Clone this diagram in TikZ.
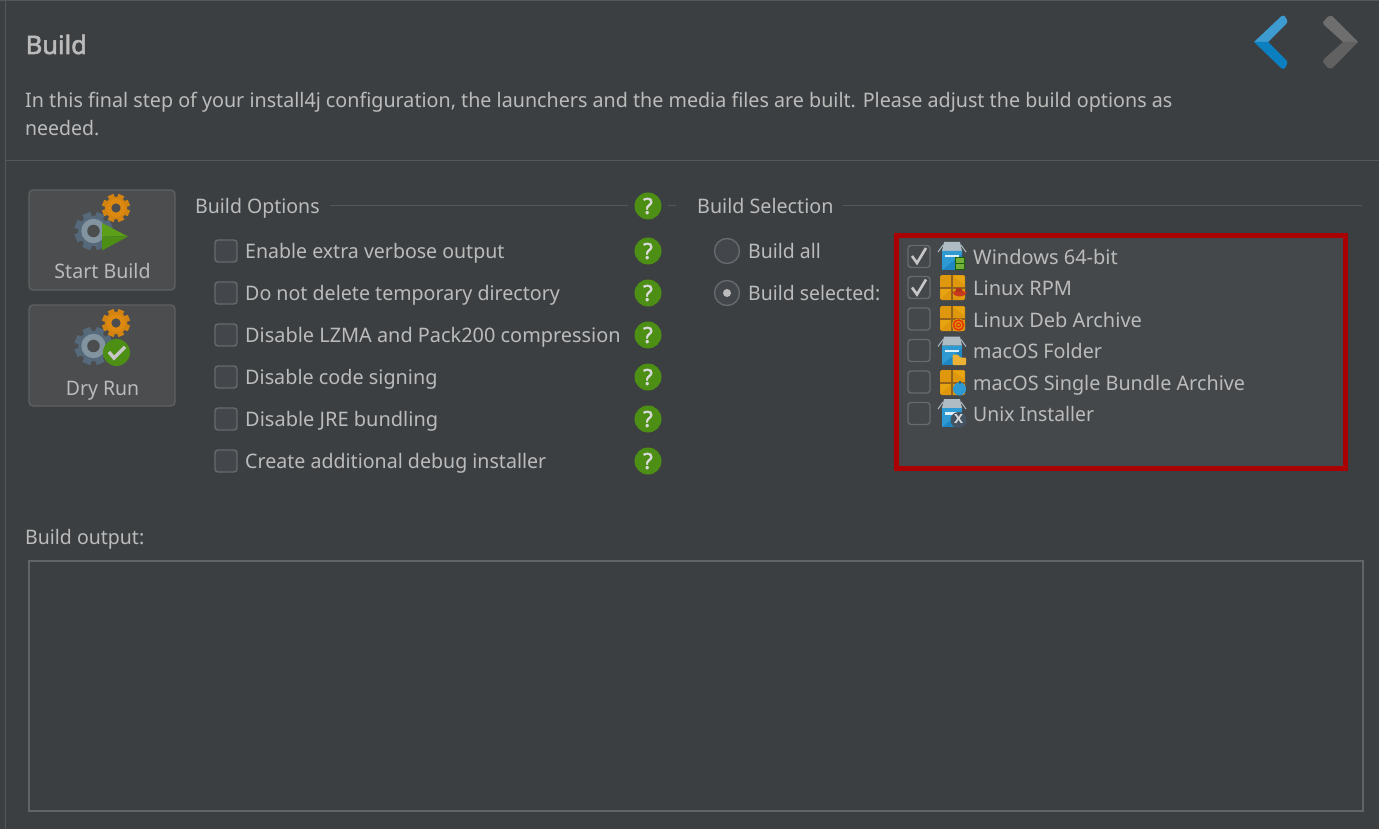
\documentclass[tikz,border=0pt]{standalone}
\usepackage{fontspec}
\usepackage{graphicx}
\setmainfont{Noto Sans}
\newfontface\heavyface{Noto Sans}[FakeBold=2.2]
\definecolor{bg}{HTML}{3C3F41}
\definecolor{txt}{HTML}{BBBBBB}
\definecolor{sep}{HTML}{55585A}
\definecolor{boxline}{HTML}{626568}
\definecolor{listbg}{HTML}{45484A}
\definecolor{btn}{HTML}{4C4D4F}
\definecolor{btnline}{HTML}{5E6060}
\definecolor{cbfill}{HTML}{43464A}
\definecolor{cbline}{HTML}{676A6C}
\definecolor{hgreen}{HTML}{4C8F14}
\definecolor{hgreenL}{HTML}{5BA018}
\definecolor{gearO}{HTML}{DE8A10}
\definecolor{orangeA}{HTML}{DF980E}
\definecolor{orangeB}{HTML}{E8A512}
\definecolor{brownA}{HTML}{94621C}
\definecolor{blueA}{HTML}{2F9AD2}
\definecolor{blueB}{HTML}{1E86C2}
\definecolor{lid}{HTML}{B0BCC4}
\definecolor{gearA}{HTML}{55697A}
\definecolor{gearB}{HTML}{82949F}
\definecolor{arrUp}{HTML}{3D9BCF}
\definecolor{arrDn}{HTML}{0B7FC0}
\definecolor{greyUp}{HTML}{6E6E6E}
\definecolor{greyDn}{HTML}{616161}
\newcommand{\tw}[2]{\scalebox{#1}[1]{#2}}
\tikzset{
 x=1pt,y=-1pt,
 label/.style={anchor=base west,inner sep=0,text=txt,font=\fontsize{20}{24}\selectfont},
 optbox/.style={draw=cbline,line width=1.4pt,fill=cbfill,rounded corners=3pt,minimum size=22pt,inner sep=0},
 helpdot/.style={circle,fill=hgreen,minimum size=27pt,inner sep=0,text=white!85!black,font=\heavyface\fontsize{22}{22}\selectfont},
 radio/.style={circle,draw=cbline,line width=1.4pt,fill=cbfill,minimum size=25pt,inner sep=0},
 sepline/.style={draw=sep,line width=1pt},
 btnbox/.style={draw=btnline,line width=1.4pt,fill=btn,rounded corners=4pt,inner sep=0},
 checkmark/.style={draw=white!78!black,line width=2.6pt,line cap=butt},
}
% gear: centre, outer radius, colour, ring colour
\newcommand{\gearicon}[5]{%
 \foreach \a in {0,45,...,315}{
  \fill[#4,rotate around={\a+22.5:(#1,#2)}] (#1-#3*0.22,#2) rectangle (#1+#3*0.22,#2-#3);
 }
 \fill[#4] (#1,#2) circle[radius=#3*0.8];
 \fill[#5] (#1,#2) circle[radius=#3*0.64];
 \fill[btn] (#1,#2) circle[radius=#3*0.33];
}
\newcommand{\archiveicon}[2]{%
 \fill[orangeA,rounded corners=1.5pt] (#1,#2) rectangle ++(25,25);
 \fill[orangeB] (#1+13,#2+1) -- (#1+24,#2+1) -- (#1+24,#2+9) -- cycle;
 \fill[orangeB] (#1+1,#2+14) -- (#1+11,#2+14) -- (#1+1,#2+23) -- cycle;
 \fill[brownA] (#1+11,#2) rectangle ++(2,25);
 \fill[brownA] (#1,#2+12) rectangle ++(25,2);
}
\newcommand{\packageicon}[2]{%
 \fill[lid] (#1+6,#2) -- (#1+22,#2) -- (#1+24,#2+9) -- (#1+4,#2+9) -- cycle;
 \draw[lid,line width=1pt] (#1+5,#2+3) -- (#1,#2+10);
 \draw[lid,line width=1pt] (#1+23,#2+3) -- (#1+28,#2+10);
 \fill[blueB] (#1+4,#2+9) rectangle (#1+24,#2+28);
 \fill[blueA] (#1+4,#2+9) -- (#1+24,#2+9) -- (#1+24,#2+12) -- (#1+4,#2+28) -- cycle;
 \fill[white!85!blueA] (#1+7,#2+13) rectangle (#1+21,#2+15.5);
}
\begin{document}
\begin{tikzpicture}
\useasboundingbox (0,0) rectangle (1379,829);
\fill[bg] (0,0) rectangle (1379,829);
% frame lines
\draw[sepline] (0,0.5) -- (1379,0.5);
\draw[sepline] (5.5,0) -- (5.5,829);
\draw[sepline] (5.5,161) -- (1379,161);
% header
\node[label,font=\heavyface\fontsize{25.5}{28}\selectfont] (title) at (25.5,54) {Build};
\node[label] (intro1) at (25,108) {\tw{0.985}{In this final step of your install4j configuration, the launchers and the media files are built. Please adjust the build options as}};
\node[label] (intro2) at (25,136) {\tw{0.973}{needed.}};
% nav arrows
\fill[arrUp] (1254,42) -- (1281,16.5) .. controls (1283,15) and (1284,15.5) .. (1285,16.5) -- (1287,20) .. controls (1288,22) and (1287,23) .. (1286,24) -- (1268,42) -- cycle;
\fill[arrDn] (1254,42) -- (1281,68) .. controls (1283,69.5) and (1284,69) .. (1285,68) -- (1287,64) .. controls (1288,62) and (1287,61) .. (1286,60) -- (1268,42) -- cycle;
\fill[greyUp] (1358,42) -- (1332,16) -- (1328,16.5) -- (1323,22) -- (1324,25) -- (1343,42) -- cycle;
\fill[greyDn] (1358,42) -- (1332,68.5) -- (1328,68) -- (1323,62) -- (1324,59) -- (1343,42) -- cycle;
% buttons
\node[btnbox,minimum width=146pt,minimum height=100pt] (startbtn) at (102,240) {};
\node[btnbox,minimum width=146pt,minimum height=101pt] (drybtn) at (102,355.5) {};
\gearicon{93.5}{231}{19}{gearA}{gearB}
\gearicon{116}{208}{14}{gearO!95!black}{gearO}
\fill[hgreenL] (102,223) -- (128,236.5) -- (102,236.5) -- cycle;
\fill[hgreen] (102,250.5) -- (128,236.5) -- (102,236.5) -- cycle;
\gearicon{93.5}{346}{19}{gearA}{gearB}
\gearicon{116}{323}{14}{gearO!95!black}{gearO}
\node[circle,fill=hgreen,minimum size=27pt,inner sep=0] (drycheck) at (116.5,352.5) {};
\draw[checkmark,line width=3.4pt] (109,352) -- (114,358) -- (125,347);
\node[label,anchor=base] (startlbl) at (102.5,278.5) {\tw{0.98}{Start Build}};
\node[label,anchor=base] (drylbl) at (102.5,395.5) {\tw{0.973}{Dry Run}};
% build options
\node[label] (optshead) at (195,214) {\tw{0.976}{Build Options}};
\draw[sepline] (330,206) -- (628,206);
\draw[sepline] (668,206) -- (676,206);
\node[helpdot] (help0) at (648,206) {?};
\foreach \n/\y/\t/\r in {1/251/Enable extra verbose output/0.977,2/293/Do not delete temporary directory/0.981,3/335/Disable LZMA and Pack200 compression/0.995,4/377/Disable code signing/0.99,5/419/Disable JRE bundling/1,6/461/Create additional debug installer/0.98}{
 \node[optbox] (opt\n) at (226,\y) {};
 \node[label] (optl\n) at (245,\y+7.5) {\tw{\r}{\t}};
 \node[helpdot] (help\n) at (648,\y) {?};
}
% build selection
\node[label] (selhead) at (697,214) {\tw{0.985}{Build Selection}};
\draw[sepline] (843,206) -- (1362,206);
\node[radio] (rall) at (727,251) {};
\node[label] (rallt) at (748,258.5) {\tw{0.973}{Build all}};
\node[radio] (rsel) at (727,293) {};
\fill[txt] (rsel.center) circle[radius=4];
\node[label] (rselt) at (748,300.5) {\tw{0.97}{Build selected:}};
% list
\node[draw={rgb,255:red,170;green,0;blue,0},line width=5pt,fill=listbg,minimum width=449pt,minimum height=233pt,inner sep=0] (listbox) at (1121,352) {};
\foreach \n/\y/\t/\r in {1/256.5/Windows 64-bit/1,2/287.5/Linux RPM/1,3/319/Linux Deb Archive/1,4/350.5/macOS Folder/0.985,5/382/macOS Single Bundle Archive/0.99,6/413.5/Unix Installer/0.968}{
 \node[optbox,fill=listbg] (li\n) at (919,\y) {};
 \node[label] (lit\n) at (973,\y+8) {\tw{\r}{\t}};
}
\draw[checkmark] (912,256) -- (917,263) -- (926,248);
\draw[checkmark] (912,287.5) -- (917,294.5) -- (926,279.5);
% list icons
\packageicon{938}{242}
\fill[green!30!black!70!hgreen] (955,257) rectangle (964.5,270);
\fill[hgreenL!85!white] (955.8,258) rectangle (959.5,263);
\fill[hgreenL!85!white] (960.1,258) rectangle (963.8,263);
\fill[hgreenL!85!white] (955.8,263.8) rectangle (959.5,269.2);
\fill[hgreenL!85!white] (960.1,263.8) rectangle (963.8,269.2);
\archiveicon{940}{275}
\fill[red!50!brown!90!black] (952,292) .. controls (955,291) and (964,291) .. (967,292) .. controls (965,298) and (954,298) .. (952,292) -- cycle;
\fill[red!50!brown!80!black] (955,292) -- (956.5,288) -- (961,288) -- (963,292) -- cycle;
\archiveicon{940}{306}
\fill[orangeA] (958.5,325) circle[radius=6.5];
\draw[red!55!orange!90!black,line width=1.5pt] (958.5,325) circle[radius=5];
\draw[red!55!orange!90!black,line width=1.2pt] (958.5,325) circle[radius=2];
\packageicon{938}{336.5}
\fill[orangeB!85!white,rounded corners=1pt] (952.5,354.5) -- (958,354.5) -- (960,357.5) -- (966,357.5) -- (966,365) -- (952.5,365) -- cycle;
\archiveicon{940}{370}
\fill[blueA] (959.5,389) circle[radius=6.5];
\fill[blueA!70!black] (959,381) rectangle (961,384);
\packageicon{938}{399}
\fill[gearA!80!black] (958.5,420) circle[radius=8];
\node[inner sep=0,text=white!85!black,font=\heavyface\fontsize{16}{16}\selectfont] (xmark) at (958.5,418.5) {x};
% build output
\node[label] (outhead) at (25,544) {\tw{0.975}{Build output:}};
\node[draw=boxline,line width=1.4pt,fill=bg,minimum width=1334pt,minimum height=250pt,inner sep=0] (outbox) at (696,686) {};
\end{tikzpicture}
\end{document}
